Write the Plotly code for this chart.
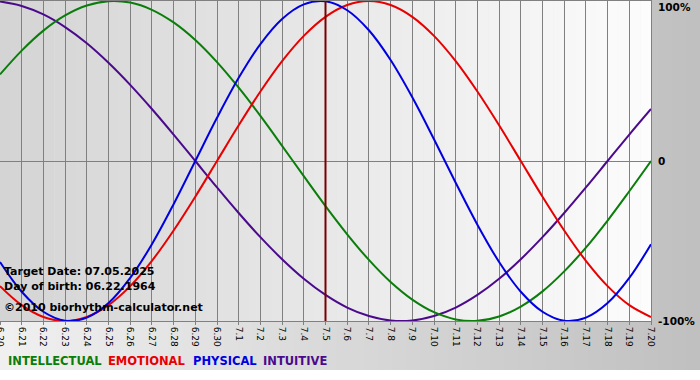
import plotly.graph_objects as go

days = ["6.20", "6.21", "6.22", "6.23", "6.24", "6.25", "6.26", "6.27", "6.28", "6.29", "6.30",
        "7.1", "7.2", "7.3", "7.4", "7.5", "7.6", "7.7", "7.8", "7.9", "7.10",
        "7.11", "7.12", "7.13", "7.14", "7.15", "7.16", "7.17", "7.18", "7.19", "7.20"]

physical = [-63.1, -81.7, -94.2, -99.8, -97.9, -88.8, -73.1, -52.0, -27.0, 0.0, 27.0,
            52.0, 73.1, 88.8, 97.9, 99.8, 94.2, 81.7, 63.1, 39.8, 13.6,
            -13.6, -39.8, -63.1, -81.7, -94.2, -99.8, -97.9, -88.8, -73.1, -52.0]
emotional = [-78.2, -90.1, -97.5, -100.0, -97.5, -90.1, -78.2, -62.4, -43.4, -22.3, 0.0,
             22.3, 43.4, 62.4, 78.2, 90.1, 97.5, 100.0, 97.5, 90.1, 78.2,
             62.4, 43.4, 22.3, 0.0, -22.3, -43.4, -62.4, -78.2, -90.1, -97.5]
intellectual = [54.1, 69.0, 81.5, 91.0, 97.2, 99.9, 99.0, 94.5, 86.6, 75.6, 61.8,
                45.8, 28.2, 9.5, -9.5, -28.2, -45.8, -61.8, -75.6, -86.6, -94.5,
                -99.0, -99.9, -97.2, -91.0, -81.5, -69.0, -54.1, -37.2, -18.9, 0.0]
intuitive = [99.7, 96.9, 91.6, 83.7, 73.6, 61.4, 47.6, 32.5, 16.5, 0.0, -16.5,
             -32.5, -47.6, -61.4, -73.6, -83.7, -91.6, -96.9, -99.7, -99.7, -96.9,
             -91.6, -83.7, -73.6, -61.4, -47.6, -32.5, -16.5, 0.0, 16.5, 32.5]

target_day = "7.5"
info_lines = ["Target Date: 07.05.2025", "Day of birth: 06.22.1964", "\u00a92010 biorhythm-calculator.net"]
legend_names = ["INTELLECTUAL", "EMOTIONAL", "PHYSICAL", "INTUITIVE"]
colors = {"PHYSICAL": "#0000e0", "EMOTIONAL": "#e80000", "INTELLECTUAL": "#0a7d0a", "INTUITIVE": "#4b0a8c"}

W, H = 700, 380
L, R, T, B = 0, 49, 1, 59
pw, ph = W - L - R, H - T - B

def px2x(px):
    return (px - L) / pw

def py2y(py):
    return (H - B - py) / ph

shapes = []
# outer background gradient
N = 50
for i in range(N):
    x0 = i * W / N
    x1 = (i + 1) * W / N + 0.5
    c = int(round(0xf0 - (0xf0 - 0xc0) * (i + 0.5) / N))
    shapes.append(dict(type="rect", xref="paper", yref="paper",
                       x0=px2x(x0), x1=px2x(x1), y0=py2y(370), y1=py2y(0),
                       fillcolor=f"rgb({c},{c},{c})", line=dict(width=0), layer="below"))
# plot area gradient
N2 = 60
for i in range(N2):
    x0 = i * pw / N2
    x1 = (i + 1) * pw / N2 + 0.5
    c = int(round(0xd4 + (0xfc - 0xd4) * (i + 0.5) / N2))
    shapes.append(dict(type="rect", xref="paper", yref="paper",
                       x0=px2x(x0), x1=min(1, px2x(x1)), y0=0, y1=1,
                       fillcolor=f"rgb({c},{c},{c})", line=dict(width=0), layer="below"))
# target date line
shapes.append(dict(type="line", xref="x", yref="y", x0=days.index(target_day), x1=days.index(target_day),
                   y0=-100, y1=100, line=dict(color="#7a0000", width=2), layer="above"))

fig = go.Figure()
for name, vals in [("INTUITIVE", intuitive), ("INTELLECTUAL", intellectual),
                   ("EMOTIONAL", emotional), ("PHYSICAL", physical)]:
    fig.add_trace(go.Scatter(x=days, y=vals, mode="lines", name=name,
                             line=dict(color=colors[name], width=2, shape="spline", smoothing=1.0),
                             showlegend=False, hoverinfo="skip"))

annotations = []
font_b = "DejaVu Sans"
for i, t in enumerate(info_lines):
    py = [271, 286, 307][i]
    annotations.append(dict(text=f"<b>{t}</b>", xref="paper", yref="paper", x=px2x(2), y=py2y(py),
                            xanchor="left", yanchor="middle", showarrow=False,
                            font=dict(family=font_b, size=11, color="black")))
legend_x = [6, 106, 191, 261]
for name, lx in zip(legend_names, legend_x):
    annotations.append(dict(text=f"<b>{name}</b>", xref="paper", yref="paper", x=px2x(lx), y=py2y(361),
                            xanchor="left", yanchor="middle", showarrow=False,
                            font=dict(family=font_b, size=11.5, color=colors[name])))
for lbl, py in [("100%", 7), ("0", 161), ("-100%", 321)]:
    annotations.append(dict(text=f"<b>{lbl}</b>", xref="paper", yref="paper", x=px2x(656), y=py2y(py),
                            xanchor="left", yanchor="middle", showarrow=False,
                            font=dict(family=font_b, size=10.5, color="black")))

fig.update_layout(
    width=W, height=H,
    margin=dict(l=L, r=R, t=T, b=B, pad=0, autoexpand=False),
    paper_bgcolor="white", plot_bgcolor="rgba(0,0,0,0)",
    shapes=shapes, annotations=annotations,
    xaxis=dict(type="category", range=[0, len(days) - 1], showgrid=True, gridcolor="#808080", gridwidth=1,
               tickangle=90, ticks="outside", ticklen=3, tickcolor="#808080", automargin=False,
               tickfont=dict(family="DejaVu Sans", size=9, color="black"),
               showline=True, linecolor="#808080", linewidth=1, mirror=True, zeroline=False, fixedrange=True),
    yaxis=dict(range=[-100, 100], showgrid=False, zeroline=True, zerolinecolor="#808080", zerolinewidth=1,
               showticklabels=False, ticks="", showline=True, linecolor="#808080", mirror=True,
               automargin=False, fixedrange=True),
)

fig.write_html("out.html", config={"displayModeBar": False},
               post_script="document.body.style.margin='0';document.body.style.padding='0';")
